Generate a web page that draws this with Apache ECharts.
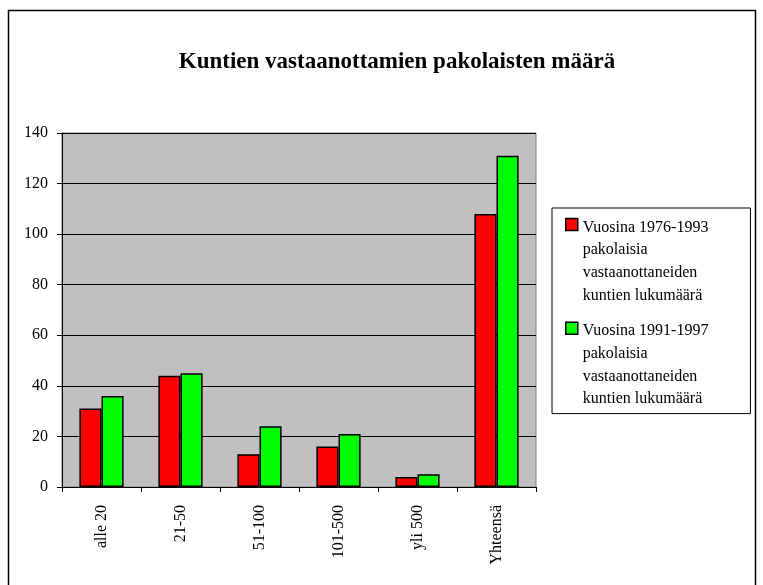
<!DOCTYPE html>
<html>
<head>
<meta charset="utf-8">
<script src="https://cdn.jsdelivr.net/npm/echarts@6/dist/echarts.min.js"></script>
<style>
  html, body { margin: 0; padding: 0; background: #fff; }
  #chart { width: 763px; height: 585px; }
</style>
</head>
<body>
<div id="chart"></div>
<script>
// Data
var categories = ['alle 20', '21-50', '51-100', '101-500', 'yli 500', 'Yhteensä'];
var seriesNames = [
    'Vuosina 1976-1993\npakolaisia\nvastaanottaneiden\nkuntien lukumäärä',
    'Vuosina 1991-1997\npakolaisia\nvastaanottaneiden\nkuntien lukumäärä'
];
var values7693 = [31, 44, 13, 16, 4, 108];
var values9197 = [36, 45, 24, 21, 5, 131];

var serif = '"Liberation Serif", "Times New Roman", serif';

var myChart = echarts.init(document.getElementById('chart'));

var option = {
    backgroundColor: '#fff',
    animation: false,
    title: {
        text: 'Kuntien vastaanottamien pakolaisten määrä',
        left: 392,
        textAlign: 'center',
        top: 46,
        textStyle: {
            fontFamily: serif,
            fontSize: 23,
            fontWeight: 'bold',
            color: '#000'
        }
    },
    legend: {
        orient: 'vertical',
        left: 552,
        top: 208,
        padding: [8, 42, 3, 13],
        itemGap: 13,
        itemWidth: 12,
        itemHeight: 91,
        // square at the first text line, the lone moveTo only stretches the box
        icon: 'path://M0,91M0,5H12V17H0Z',
        backgroundColor: '#fff',
        borderColor: '#000',
        borderWidth: 1,
        itemStyle: {
            borderColor: '#000',
            borderWidth: 1.5
        },
        textStyle: {
            fontFamily: serif,
            fontSize: 16,
            lineHeight: 22.7,
            color: '#000'
        },
        data: seriesNames
    },
    grid: {
        left: 62,
        right: 227,
        top: 133,
        bottom: 98,
        show: true,
        backgroundColor: '#c0c0c0',
        borderColor: '#808080',
        borderWidth: 1
    },
    xAxis: {
        type: 'category',
        data: categories,
        axisLine: { lineStyle: { color: '#000', width: 1 } },
        axisTick: { show: true, length: 5, lineStyle: { color: '#000' } },
        axisLabel: {
            rotate: 90,
            margin: 18,
            fontFamily: serif,
            fontSize: 16,
            color: '#000'
        }
    },
    yAxis: {
        type: 'value',
        min: 0,
        max: 140,
        interval: 20,
        axisLine: { show: true, lineStyle: { color: '#000', width: 1 } },
        axisTick: { show: true, length: 5, lineStyle: { color: '#000' } },
        splitLine: { show: true, lineStyle: { color: '#000', width: 1 } },
        axisLabel: {
            margin: 14,
            fontFamily: serif,
            fontSize: 16,
            color: '#000'
        }
    },
    series: [{
        name: seriesNames[0],
        type: 'bar',
        barGap: '0%',
        barCategoryGap: '44%',
        itemStyle: {
            color: '#ff0000',
            borderColor: '#000',
            borderWidth: 1.5
        },
        data: values7693
    }, {
        name: seriesNames[1],
        type: 'bar',
        barGap: '0%',
        barCategoryGap: '44%',
        itemStyle: {
            color: '#00ff00',
            borderColor: '#000',
            borderWidth: 1.5
        },
        data: values9197
    }],
    graphic: [{
        type: 'rect',
        silent: true,
        shape: { x: 8.5, y: 10.5, width: 747, height: 600 },
        style: { fill: null, stroke: '#000', lineWidth: 1.5 },
        z: -1
    }]
};

myChart.setOption(option);
</script>
</body>
</html>
